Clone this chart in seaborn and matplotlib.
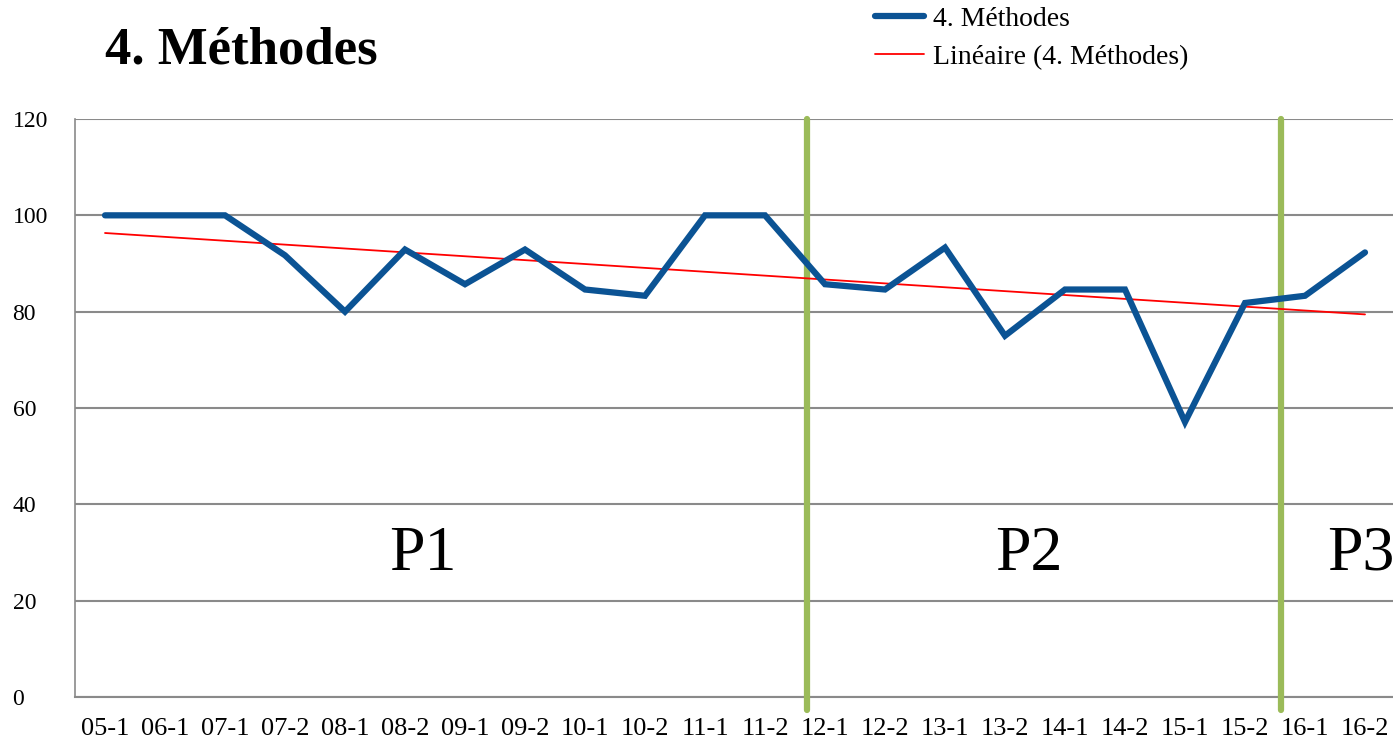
import matplotlib
matplotlib.use("Agg")
import matplotlib.pyplot as plt
from matplotlib.lines import Line2D
import numpy as np
import seaborn as sns

# ---------------------------------------------------------------------------
# Data
# ---------------------------------------------------------------------------
semesters = ["05-1", "06-1", "07-1", "07-2", "08-1", "08-2", "09-1", "09-2",
             "10-1", "10-2", "11-1", "11-2", "12-1", "12-2", "13-1", "13-2",
             "14-1", "14-2", "15-1", "15-2", "16-1", "16-2"]
methodes = [100, 100, 100, 91.7, 80, 92.9, 85.7, 92.9, 84.6, 83.3, 100, 100,
            85.7, 84.6, 93.3, 75, 84.6, 84.6, 57.1, 81.8, 83.3, 92.3]
period_labels = ["P1", "P2", "P3"]
period_label_pos = [5.3, 15.4, 20.93]
period_breaks = [11.7, 19.6]
y_ticks = [0, 20, 40, 60, 80, 100, 120]

BLUE = "#0B5394"
GREEN = "#9BBB59"
GRID = "#8A8A8A"

sns.set_theme(style="white")
plt.rcParams["font.family"] = ["Liberation Serif", "DejaVu Serif"]
plt.rcParams["text.color"] = "black"
plt.rcParams["xtick.color"] = "black"
plt.rcParams["ytick.color"] = "black"

fig = plt.figure(figsize=(13.93, 7.45), dpi=100)
ax = fig.add_axes([75 / 1393, 48 / 745, 1320 / 1393, 578 / 745])

x = np.arange(len(semesters))

# period separators
for xb in period_breaks:
    ax.axvline(xb, ymin=-0.022, ymax=1.0, color=GREEN, lw=4.5, clip_on=False, zorder=4)

sns.regplot(x=x, y=methodes, scatter=False, ci=None, truncate=True,
            color="red", line_kws=dict(lw=1.3, zorder=5), ax=ax)
sns.lineplot(x=x, y=methodes, color=BLUE, lw=4.5, ax=ax, zorder=6,
             solid_capstyle="round", solid_joinstyle="miter")

for lbl, px in zip(period_labels, period_label_pos):
    ax.text(px, 29.5, lbl, fontsize=46, ha="center", va="center", color="black")

# axes styling
ax.set_xlim(-0.5, len(semesters) - 0.5)
ax.set_ylim(0, 120)
ax.set_yticks(y_ticks)
ax.set_yticklabels([str(v) for v in y_ticks], fontsize=17, ha="left")
ax.set_xticks(x)
ax.set_xticklabels(semesters, fontsize=19)
ax.set_xticks(np.arange(-0.5, len(semesters)), minor=True)
ax.tick_params(axis="x", which="major", length=0, pad=15)
ax.tick_params(axis="x", which="minor", length=5, width=1.2, color=GRID, direction="out")
ax.tick_params(axis="y", length=5, width=1.2, color=GRID, direction="out", pad=40)
ax.grid(axis="y", color=GRID, lw=1.5)
ax.set_axisbelow(True)
for side in ["top", "right"]:
    ax.spines[side].set_visible(False)
ax.spines["left"].set_color(GRID)
ax.spines["bottom"].set_color(GRID)
ax.spines["left"].set_linewidth(1.2)
ax.spines["bottom"].set_linewidth(1.5)
ax.set_xlabel("")
ax.set_ylabel("")

fig.text(105 / 1393, 1 - 50 / 745, "4. Méthodes", fontsize=38, fontweight="bold",
         ha="left", va="center")

handles = [Line2D([], [], color=BLUE, lw=4.5, solid_capstyle="round"),
           Line2D([], [], color="red", lw=1.3)]
fig.legend(handles, ["4. Méthodes", "Linéaire (4. Méthodes)"],
           loc="upper left", bbox_to_anchor=(850 / 1393, 1.025), frameon=False,
           fontsize=20, handlelength=1.75, handletextpad=0.35, labelspacing=0.45)

fig.savefig("out.png", dpi=100)
